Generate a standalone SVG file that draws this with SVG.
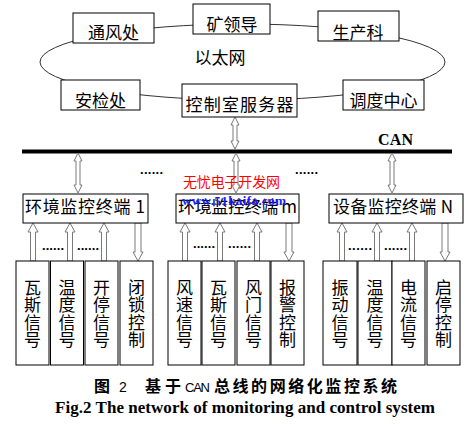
<svg xmlns="http://www.w3.org/2000/svg" xmlns:xlink="http://www.w3.org/1999/xlink" width="469" height="426" viewBox="0 0 469 426">
<style>
.box{fill:#fff;stroke:#000;stroke-width:1}
.cj{font-family:"Noto Sans CJK SC","Noto Sans",sans-serif;font-size:17px;fill:#000}
.mid{text-anchor:middle}
.vt{font-family:"Noto Sans CJK SC","Noto Sans",sans-serif;font-size:17px;fill:#000;writing-mode:vertical-rl;letter-spacing:0.5px}
.arr{fill:#fff;stroke:#7a7a7a;stroke-width:1}
.ring{fill:none;stroke:#333;stroke-width:1}
.dots{font-family:"Liberation Sans",Arial,sans-serif;font-size:13px;font-weight:bold;fill:#000}
</style>
<defs>
<path id="up" d="M0,0 L5,9 L2.5,9 L2.5,38 L-2.5,38 L-2.5,9 L-5,9 Z"/>
<path id="down" d="M0,38 L5,29 L3,29 L3,0 L-3,0 L-3,29 L-5,29 Z"/>
<path id="dbl" d="M0,0 L4,8 L2,8 L2,32 L4,32 L0,40 L-4,32 L-2,32 L-2,8 L-4,8 Z"/>
<path id="dbl2" d="M0,0 L4,8 L2,8 L2,24 L4,24 L0,32 L-4,24 L-2,24 L-2,8 L-4,8 Z"/>
</defs>
<rect width="469" height="426" fill="#fff"/>

<g id="connectors">
<ellipse class="ring" cx="242.5" cy="62" rx="202.5" ry="38"/>
<rect id="can-bus" x="22" y="149.5" width="430" height="4" fill="#000"/>
<use xlink:href="#dbl2" class="arr" x="235" y="117"/>
<use xlink:href="#dbl" class="arr" x="78" y="153"/>
<use xlink:href="#dbl" class="arr" x="236" y="153"/>
<use xlink:href="#dbl" class="arr" x="392" y="153"/>
<use xlink:href="#up" class="arr" x="33" y="223"/>
<use xlink:href="#up" class="arr" x="70" y="223"/>
<use xlink:href="#up" class="arr" x="104" y="223"/>
<use xlink:href="#down" class="arr" x="138" y="223"/>
<use xlink:href="#up" class="arr" x="185" y="223"/>
<use xlink:href="#up" class="arr" x="220" y="223"/>
<use xlink:href="#up" class="arr" x="257" y="223"/>
<use xlink:href="#down" class="arr" x="289" y="223"/>
<use xlink:href="#up" class="arr" x="342" y="223"/>
<use xlink:href="#up" class="arr" x="377" y="223"/>
<use xlink:href="#up" class="arr" x="412" y="223"/>
<use xlink:href="#down" class="arr" x="445" y="223"/>
</g>

<text class="cj mid" x="220" y="64">以太网</text>
<text x="378" y="145" font-family="Liberation Serif,serif" font-size="16" font-weight="bold" textLength="35">CAN</text>

<g id="tongfeng"><rect class="box" x="73" y="13" width="81" height="30"/><text class="cj mid" x="113.5" y="39">通风处</text></g>
<g id="kuanglingdao"><rect class="box" x="193" y="4" width="77" height="30"/><text class="cj mid" x="232" y="30.5">矿领导</text></g>
<g id="shengchan"><rect class="box" x="318" y="11" width="81" height="30"/><text class="cj mid" x="358" y="38.5">生产科</text></g>
<g id="anjian"><rect class="box" x="61" y="80" width="79" height="30"/><text class="cj mid" x="100.5" y="107">安检处</text></g>
<g id="server"><rect class="box" x="182" y="84" width="115" height="33"/><text class="cj mid" x="239.5" y="111" textLength="108">控制室服务器</text></g>
<g id="diaodu"><rect class="box" x="343" y="80" width="81" height="30"/><text class="cj mid" x="383.5" y="107">调度中心</text></g>

<g id="term1"><rect class="box" x="23" y="194" width="125" height="29"/><text class="cj" x="25" y="213" textLength="120">环境监控终端 1</text></g>
<g id="termm"><rect class="box" x="176" y="194" width="123" height="29"/><text class="cj" x="178" y="213" textLength="119">环境监控终端 m</text></g>
<g id="termn"><rect class="box" x="329" y="194" width="134" height="29"/><text class="cj" x="333" y="213" textLength="120">设备监控终端 N</text></g>

<text class="dots" x="140" y="174" textLength="23">......</text>
<text class="dots" x="295" y="174" textLength="23">......</text>
<text class="dots" x="42" y="250" textLength="22">......</text>
<text class="dots" x="77" y="250" textLength="22">......</text>
<text class="dots" x="193" y="248" textLength="22">......</text>
<text class="dots" x="228" y="248" textLength="23">......</text>
<text class="dots" x="348" y="250" textLength="24">......</text>
<text class="dots" x="384" y="250" textLength="23">......</text>

<g id="s1"><rect class="box" x="16" y="261" width="33" height="104"/><text class="vt" x="32.5" y="279">瓦斯信号</text></g>
<g id="s2"><rect class="box" x="50.5" y="261" width="33" height="104"/><text class="vt" x="67" y="279">温度信号</text></g>
<g id="s3"><rect class="box" x="85" y="261" width="33" height="104"/><text class="vt" x="101.5" y="279">开停信号</text></g>
<g id="s4"><rect class="box" x="120" y="261" width="33" height="104"/><text class="vt" x="136.5" y="279">闭锁控制</text></g>

<g id="s5"><rect class="box" x="168" y="261" width="33" height="104"/><text class="vt" x="184.5" y="279">风速信号</text></g>
<g id="s6"><rect class="box" x="202" y="261" width="33" height="104"/><text class="vt" x="218.5" y="279">瓦斯信号</text></g>
<g id="s7"><rect class="box" x="237" y="261" width="33" height="104"/><text class="vt" x="253.5" y="279">风门信号</text></g>
<g id="s8"><rect class="box" x="271" y="261" width="33" height="104"/><text class="vt" x="287.5" y="279">报警控制</text></g>

<g id="s9"><rect class="box" x="323" y="261" width="34" height="104"/><text class="vt" x="340" y="279">振动信号</text></g>
<g id="s10"><rect class="box" x="358" y="261" width="34" height="104"/><text class="vt" x="375" y="279">温度信号</text></g>
<g id="s11"><rect class="box" x="392" y="261" width="33" height="104"/><text class="vt" x="408.5" y="279">电流信号</text></g>
<g id="s12"><rect class="box" x="427" y="261" width="33" height="104"/><text class="vt" x="443.5" y="279">启停控制</text></g>

<text x="94" y="392" font-family="Noto Sans CJK SC,sans-serif" font-size="16" font-weight="bold">图</text>
<text x="119" y="392" font-family="Liberation Sans,sans-serif" font-size="14">2</text>
<text x="145" y="392" font-family="Noto Sans CJK SC,sans-serif" font-size="16" font-weight="bold" textLength="36">基于</text>
<text x="185" y="392" font-family="Liberation Sans,sans-serif" font-size="13" textLength="25">CAN</text>
<text x="214" y="392" font-family="Noto Sans CJK SC,sans-serif" font-size="16" font-weight="bold" textLength="183">总线的网络化监控系统</text>
<text x="55" y="413" font-family="Liberation Serif,serif" font-size="17" font-weight="bold" textLength="380">Fig.2 The network of monitoring and control system</text>

<text x="183" y="187" font-family="Noto Sans CJK SC,sans-serif" font-size="14" fill="#ff0000" textLength="97">无忧电子开发网</text>
<text x="182" y="205" font-family="Liberation Serif,serif" font-size="13" font-weight="bold" fill="#1a1aff" textLength="104">www.51kaifa.com</text>
</svg>
